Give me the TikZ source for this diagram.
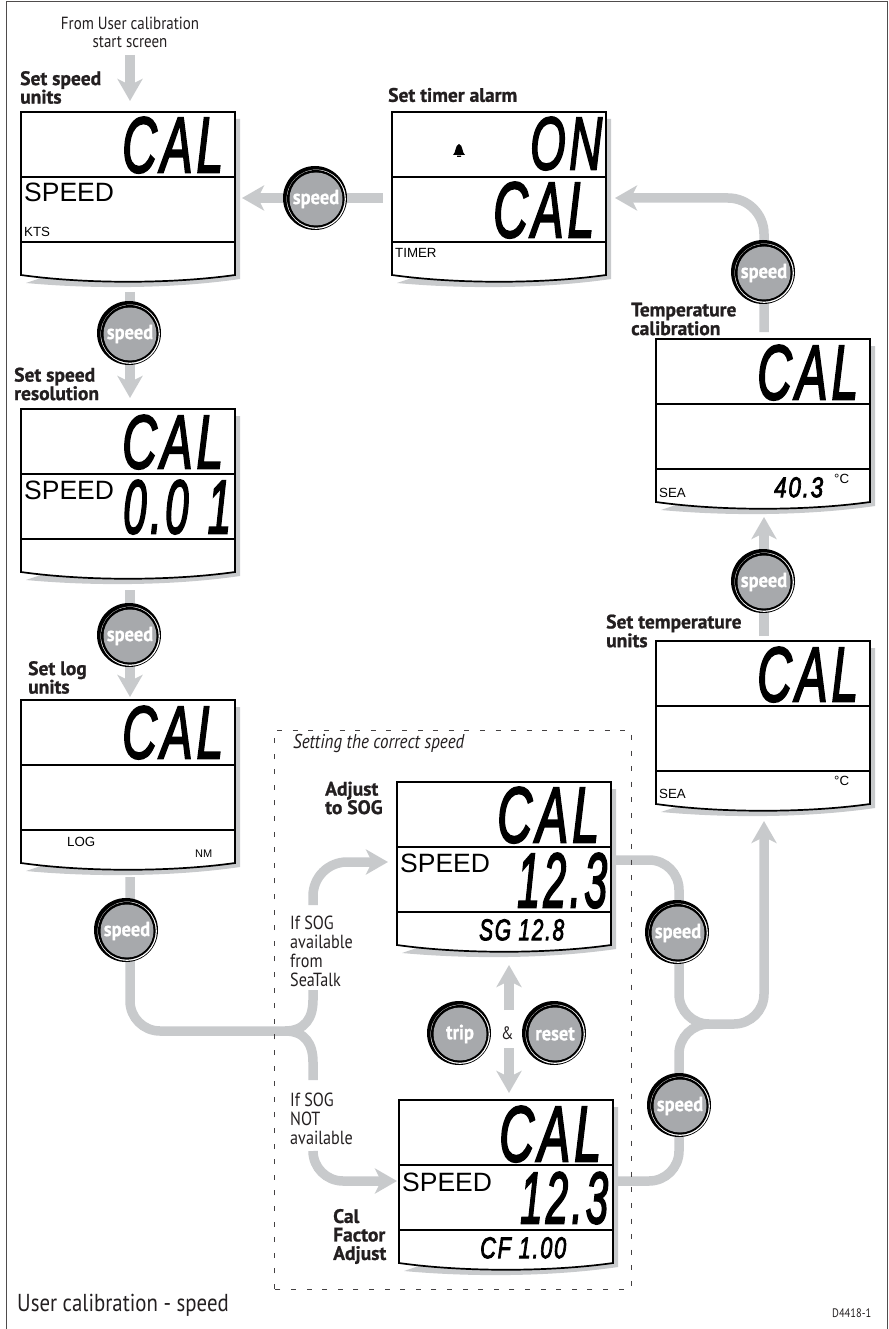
\documentclass[tikz,border=0pt]{standalone}
\usepackage{graphicx}
\usepackage{fontspec}
\usetikzlibrary{arrows.meta,backgrounds}
\setmainfont{PT Sans}[FakeStretch=.85]
\newfontfamily\labfont{PT Sans}[BoldFeatures={FakeBold=1}]
\newfontfamily\btnfont{PT Sans}[BoldFeatures={FakeBold=0.7,FakeStretch=.9}]
\newfontfamily\lcdsans{Liberation Sans}
\newfontfamily\segfont{Liberation Sans}[ItalicFeatures={FakeBold=3,LetterSpace=8}]
\newcommand\fsz[1]{\fontsize{#1pt}{#1pt}\selectfont}
\definecolor{flowgray}{HTML}{C8CACC}
\definecolor{btngray}{HTML}{A7A9AC}
\definecolor{ink}{HTML}{231F20}
\tikzset{
  x=1pt,y=-1pt,
  flow/.style={draw=flowgray,line width=9.5pt},
  flowtip/.style={flow,-{Stealth[length=22pt,width=25pt,inset=6pt]}},
  panelbox/.style={rectangle,minimum width=214pt,minimum height=170pt,inner sep=0pt,outer sep=0pt},
  lbl/.style={anchor=west,inner sep=0pt,align=left,text=ink,font=\labfont\fsz{19.5}\bfseries,execute at begin node={\setlength{\baselineskip}{18.5pt}}},
  note/.style={anchor=west,inner sep=0pt,align=left,text=ink,font=\fsz{19},execute at begin node={\setlength{\baselineskip}{19pt}}},
  lcdtxt/.style={anchor=west,inner sep=0pt,font=\lcdsans\fsz{13.3}},
  lcdbig/.style={anchor=west,inner sep=0pt,font=\lcdsans\fsz{26.5}},
  btnface/.style={circle,fill=btngray,minimum size=53pt,inner sep=0pt,text=white,font=\btnfont\fsz{20.5}\bfseries},
}
\newcommand\lcdpanel[3]{%
  \node[panelbox,anchor=north west] (#1) at (#2,#3) {};
  \begin{scope}[shift={(#2,#3)}]
    \fill[flowgray] (214,7) -- (219,7) -- (219,167) .. controls (150,177) and (70,177) .. (5,171) -- (214,100) -- cycle;
    \filldraw[fill=white,draw=black,line width=1.7pt,line join=miter] (0,0) -- (214,0) -- (214,163) .. controls (150,172) and (64,172) .. (0,163) -- cycle;
    \draw[black,line width=1.7pt] (0,65) -- (214,65) (0,130) -- (214,130);
  \end{scope}}
\newcommand\seg[6]{\node[anchor=north west,inner sep=0pt] (#1) at (#2,#3) {\resizebox{#4pt}{#5pt}{\segfont\itshape #6}};}
\newcommand\btn[4]{%
  \fill[black] (#2,#3) circle[radius=32];
  \fill[white] (#2+1.2,#3+1.2) circle[radius=29.6];
  \fill[black] (#2+.8,#3+.8) circle[radius=28.8];
  \node[btnface] (#1) at (#2+1,#3+1) {#4};}
\begin{document}
\begin{tikzpicture}
\useasboundingbox (0,0) rectangle (888,1329);
\draw[ink!80,line width=1pt] (6,1329) -- (6,2) -- (887,2) -- (887,1329);

% panels
\lcdpanel{pa}{21}{112}
\lcdpanel{pb}{21}{409}
\lcdpanel{pc}{21}{700}
\lcdpanel{pd}{392}{112}
\lcdpanel{pe}{656}{339}
\lcdpanel{pf}{656}{641}
\lcdpanel{pg}{397}{782}
\lcdpanel{ph}{399}{1100}

% LCD digits
\seg{sa}{122}{117}{101}{55}{CAL}
\seg{sb}{122}{415}{101}{53}{CAL}
\seg{sb2}{123}{480}{108}{53}{0.0\hspace{.45em}1}
\seg{sc}{122}{706}{101}{52}{CAL}
\seg{sd}{530}{117}{72}{52}{ON}
\seg{sd2}{493}{182}{101}{55}{CAL}
\seg{se}{757}{345}{101}{54}{CAL}
\seg{se2}{774}{477}{49}{20}{40.3}
\seg{sf}{757}{647}{101}{54}{CAL}
\seg{sg}{497}{787}{102}{55}{CAL}
\seg{sg2}{517}{853}{90}{54}{12.3}
\seg{sg3}{479}{919}{85}{21}{SG 12.8}
\seg{sh}{499}{1106}{102}{55}{CAL}
\seg{sh2}{520}{1172}{88}{51}{12.3}
\seg{sh3}{480}{1237}{86}{21}{CF 1.00}

% LCD texts
\node[lcdbig] (ta) at (24,192) {SPEED};
\node[lcdtxt] (tb) at (24,232) {KTS};
\node[lcdbig] (tc) at (24,490) {SPEED};
\node[lcdtxt] (td) at (67,842) {LOG};
\node[lcdtxt,font=\lcdsans\fsz{11}] (te) at (195,854) {NM};
\node[lcdtxt] (tf) at (395,253) {TIMER};
\node[lcdtxt] (tg) at (659,493) {SEA};
\node[lcdtxt] (th) at (834,479) {°C};
\node[lcdtxt] (ti) at (659,794) {SEA};
\node[lcdtxt] (tj) at (834,781) {°C};
\node[lcdbig] (tk) at (400,863) {SPEED};
\node[lcdbig] (tl) at (402,1182) {SPEED};
\fill[black] (453,155) .. controls (456,153) and (455,145) .. (459,144) .. controls (463,145) and (462,153) .. (465,155) -- cycle (457,155.6) rectangle (461,157);

% labels
\node[note,align=center,anchor=center,font=\fsz{17.6},execute at begin node={\setlength{\baselineskip}{18pt}}] (from) at (130,32) {From User calibration\\start screen};
\node[lbl] (la) at (20,87.5) {Set speed\\units};
\node[lbl] (lb) at (14,384) {Set speed\\resolution};
\node[lbl] (lc) at (28,677.5) {Set log\\units};
\node[lbl] (ld) at (388,95) {Set timer alarm};
\node[lbl,execute at begin node={\setlength{\baselineskip}{16pt}}] (le) at (631,319) {Temperature\\calibration};
\node[lbl,execute at begin node={\setlength{\baselineskip}{16pt}}] (lf) at (606,631) {Set temperature\\units};
\node[lbl] (lg) at (325,798) {Adjust\\to SOG};
\node[lbl] (lh) at (333,1236.5) {Cal\\Factor\\Adjust};
\node[note,font=\fsz{20}\itshape] (li) at (293,743) {Setting the correct speed};
\node[note] (lj) at (290,951.5) {If SOG\\available\\from\\SeaTalk};
\node[note] (lk) at (290,1119) {If SOG\\NOT\\available};
\node[note,font=\fsz{24.5}] (ll) at (17,1305) {User calibration - speed};
\node[note,font=\fsz{12.3}] (lm) at (832,1313) {D4418-1};
\node[note,font=\fsz{18}] (amp) at (501,1033) {\&};

% dashed box
\draw[ink!85,line width=1pt,dash pattern=on 5pt off 10.6pt] (274.5,1289) -- (274.5,730) -- (631,730) -- (631,1289) -- cycle;

% buttons
\btn{ba}{129}{333}{speed}
\btn{bb}{129}{635}{speed}
\btn{bc}{126}{930}{speed}
\btn{bd}{315}{198}{speed}
\btn{be}{763}{272}{speed}
\btn{bf}{763}{581}{speed}
\btn{bg}{677}{932}{speed}
\btn{bh}{679}{1105}{speed}
\btn{bi}{459}{1033}{trip}
\btn{bj}{554}{1033}{reset}

% connectors
\coordinate (ja) at (130,1031);
\coordinate (jb) at (285,1031);
\coordinate (ua) at (313,990);
\coordinate (ub) at (313,1080);
\coordinate (uc) at (313,905);
\coordinate (ud) at (388,862);
\coordinate (ue) at (313,1151);
\coordinate (uf) at (397,1181);
\coordinate (ra) at (615,860);
\coordinate (rb) at (679,1024);
\coordinate (rc) at (708,1024);
\coordinate (rd) at (616,1181);
\coordinate (re) at (764,821);
\coordinate (rf) at (764,636);
\coordinate (rk) at (764,517);
\coordinate (rg) at (764,332);
\coordinate (rh) at (615,198);
\coordinate (ri) at (383,198);
\coordinate (rj) at (242,198);
\coordinate (aa) at (130,55);
\coordinate (ab) at (509,1010);
\coordinate (ac) at (509,965);
\coordinate (ad) at (509,1048);
\coordinate (ae) at (509,1093);
\begin{scope}[on background layer]
\draw[flowtip,shorten >=11pt] (aa) -- (aa |- pa.north);
\draw[flowtip,shorten <=10pt,shorten >=11pt] (aa |- pa.south) -- (aa |- pb.north);
\draw[flowtip,shorten <=11pt,shorten >=3pt] (aa |- pb.south) -- (aa |- pc.north);
\draw[flow,shorten <=7pt,rounded corners=30pt] (ja |- pc.south) -- (ja) -- (jb);
\draw[flow] (jb) .. controls (305,1031) and (313,1018) .. (313,1000) -- (ua);
\draw[flow] (jb) .. controls (305,1031) and (313,1044) .. (313,1062) -- (ub);
\draw[flowtip,rounded corners=34pt] (uc) -- (uc |- ud) -- (ud);
\draw[flowtip,rounded corners=30pt] (ue) -- (ue |- uf) -- (uf);
\draw[flow,rounded corners=30pt] (ra) -- (rb |- ra) -- (rb) -- (rc);
\draw[flow,rounded corners=30pt] (rd) -- (rb |- rd) -- (rb) -- (rc);
\draw[flowtip,rounded corners=30pt] (rc) -- (re |- rc) -- (re);
\draw[flowtip] (rf) -- (rk);
\draw[flowtip,rounded corners=36pt] (rg) -- (rg |- rh) -- (rh);
\draw[flowtip] (ri) -- (rj);
\draw[flowtip] (ab) -- (ac);
\draw[flowtip] (ad) -- (ae);
\end{scope}
\end{tikzpicture}
\end{document}
